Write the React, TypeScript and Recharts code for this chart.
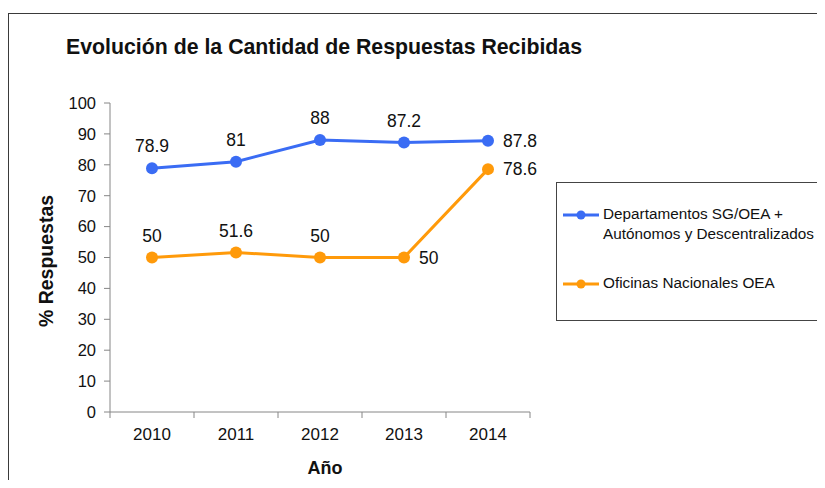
import React from "react";
import { LineChart, Line, XAxis, YAxis, LabelList } from "recharts";

const years = ["2010", "2011", "2012", "2013", "2014"];
const deptValues = [78.9, 81, 88, 87.2, 87.8];
const oficValues = [50, 51.6, 50, 50, 78.6];
const yTicks = [0, 10, 20, 30, 40, 50, 60, 70, 80, 90, 100];
const deptName = "Departamentos SG/OEA + Autónomos y Descentralizados";
const oficName = "Oficinas Nacionales OEA";
// label placement per point: "top" or "right"
const deptLabelPos = ["top", "top", "top", "top", "right"];
const oficLabelPos = ["top", "top", "top", "right", "right"];

const BLUE = "#3A6CF4";
const ORANGE = "#FF9A0A";
const FONT = '"Liberation Sans", Arial, sans-serif';

const data = years.map((y, i) => ({ year: y, dept: deptValues[i], ofic: oficValues[i] }));

const makeLabel = (positions: string[]) => (props: any) => {
  const { x, y, value, index } = props;
  const pos = positions[index];
  if (pos === "right") {
    return (
      <text x={x + 15} y={y} dy={6} fontSize={17.5} fontFamily={FONT} fill="#111" textAnchor="start">
        {value}
      </text>
    );
  }
  return (
    <text x={x} y={y - 22} dy={6} fontSize={17.5} fontFamily={FONT} fill="#111" textAnchor="middle">
      {value}
    </text>
  );
};

const XTick = (props: any) => {
  const { x, y, payload, index, visibleTicksCount } = props;
  const half = 42;
  return (
    <g>
      <line x1={x - half} y1={y - 8} x2={x - half} y2={y - 2} stroke="#868686" />
      {index === visibleTicksCount - 1 && (
        <line x1={x + half} y1={y - 8} x2={x + half} y2={y - 2} stroke="#868686" />
      )}
      <text x={x} y={y + 20} textAnchor="middle" fontSize={17} fontFamily={FONT} fill="#111">
        {payload.value}
      </text>
    </g>
  );
};

const LegendIcon = ({ color }: { color: string }) => (
  <svg width={36} height={12} style={{ display: "block" }}>
    <line x1={0} y1={6} x2={36} y2={6} stroke={color} strokeWidth={3} />
    <circle cx={18} cy={6} r={4.5} fill={color} />
  </svg>
);

export default function App() {
  return (
    <div
      style={{
        position: "relative",
        width: 817,
        height: 472,
        overflow: "hidden",
        fontFamily: FONT,
        background: "#fff",
      }}
    >
      <div
        style={{
          position: "absolute",
          left: 0,
          top: 5,
          width: 1000,
          height: 1000,
          border: "1.5px solid #3a3a3a",
          boxSizing: "border-box",
        }}
      />
      <LineChart
        width={817}
        height={472}
        data={data}
        margin={{ top: 95, right: 295, bottom: 38, left: 42 }}
        style={{ position: "absolute", left: 0, top: 0 }}
      >
        <text x={58} y={46} fontSize={21.3} fontWeight="bold" fontFamily={FONT} fill="#111">
          Evolución de la Cantidad de Respuestas Recibidas
        </text>
        <text
          x={45}
          y={253}
          fontSize={19.5}
          fontWeight="bold"
          fontFamily={FONT}
          fill="#111"
          textAnchor="middle"
          transform="rotate(-90 45 253)"
        >
          % Respuestas
        </text>
        <text x={317} y={466} fontSize={18} fontWeight="bold" fontFamily={FONT} fill="#111" textAnchor="middle">
          Año
        </text>
        <XAxis
          dataKey="year"
          height={30}
          padding={{ left: 42, right: 42 }}
          axisLine={{ stroke: "#868686" }}
          tickLine={false}
          tick={<XTick />}
          interval={0}
        />
        <YAxis
          width={60}
          domain={[0, 100]}
          ticks={yTicks}
          interval={0}
          axisLine={{ stroke: "#868686" }}
          tickLine={{ stroke: "#868686" }}
          tickSize={6}
          tickMargin={8}
          tick={{ fontSize: 16.5, fontFamily: FONT, fill: "#111" }}
        />
        <Line
          dataKey="dept"
          name={deptName}
          stroke={BLUE}
          strokeWidth={3}
          dot={{ r: 6, fill: BLUE, stroke: BLUE, strokeWidth: 0 }}
          isAnimationActive={false}
        >
          <LabelList dataKey="dept" content={makeLabel(deptLabelPos)} />
        </Line>
        <Line
          dataKey="ofic"
          name={oficName}
          stroke={ORANGE}
          strokeWidth={3}
          dot={{ r: 6, fill: ORANGE, stroke: ORANGE, strokeWidth: 0 }}
          isAnimationActive={false}
        >
          <LabelList dataKey="ofic" content={makeLabel(oficLabelPos)} />
        </Line>
      </LineChart>
      <div
        style={{
          position: "absolute",
          left: 548,
          top: 174,
          width: 400,
          height: 139,
          border: "1px solid #444",
          boxSizing: "border-box",
          fontSize: 15.3,
          color: "#111",
        }}
      >
        <div style={{ position: "absolute", left: 6, top: 21, display: "flex", alignItems: "flex-start" }}>
          <div style={{ marginTop: 5 }}>
            <LegendIcon color={BLUE} />
          </div>
          <div style={{ marginLeft: 4, lineHeight: "20px", width: 260, whiteSpace: "nowrap" }}>
            Departamentos SG/OEA +<br />Autónomos y Descentralizados
          </div>
        </div>
        <div style={{ position: "absolute", left: 6, top: 90, display: "flex", alignItems: "flex-start" }}>
          <div style={{ marginTop: 5 }}>
            <LegendIcon color={ORANGE} />
          </div>
          <div style={{ marginLeft: 4, lineHeight: "20px" }}>{oficName}</div>
        </div>
      </div>
    </div>
  );
}
